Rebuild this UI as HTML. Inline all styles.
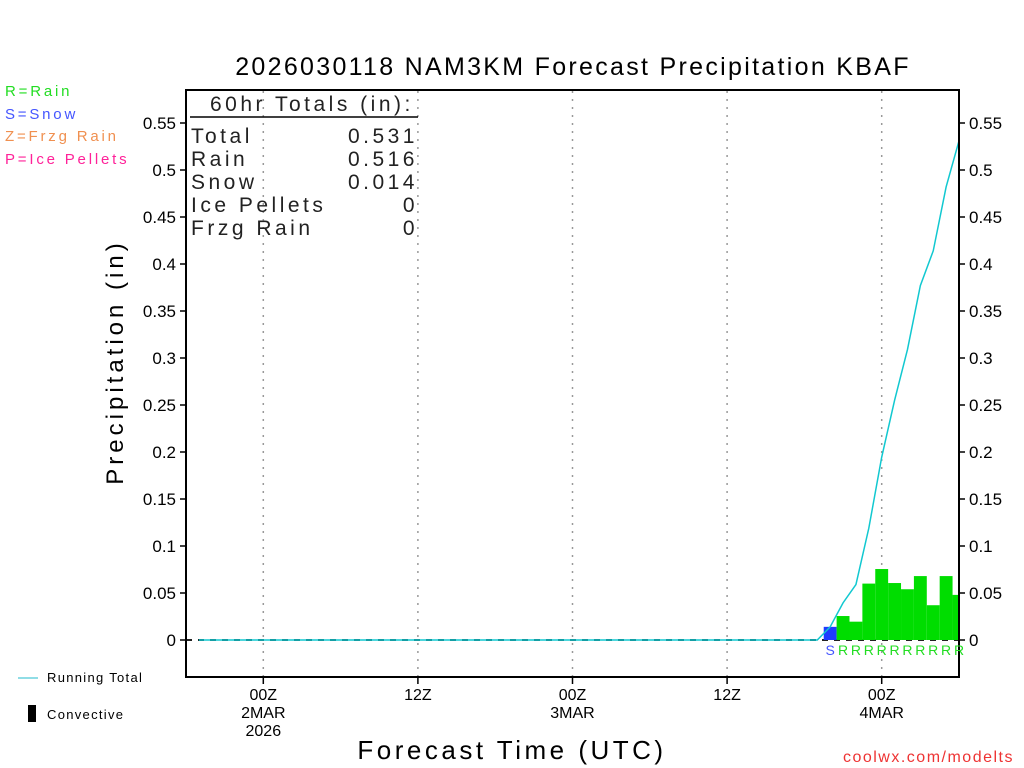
<!DOCTYPE html>
<html><head><meta charset="utf-8"><style>
html,body{margin:0;padding:0;background:#fff;}
svg{display:block;font-family:"Liberation Sans","DejaVu Sans",sans-serif;}
</style></head><body>
<svg id="chart" width="1024" height="768" viewBox="0 0 1024 768">
<text x="573" y="75" font-size="25" text-anchor="middle" letter-spacing="2.3">2026030118 NAM3KM Forecast Precipitation KBAF</text>
<g font-size="15" letter-spacing="2.8">
<text x="5" y="96" fill="#22dd22">R=Rain</text>
<text x="5" y="119" fill="#4455ff">S=Snow</text>
<text x="5" y="141" fill="#f09050">Z=Frzg Rain</text>
<text x="5" y="164" fill="#ff2299">P=Ice Pellets</text>
</g>
<g id="grid"></g>
<g id="bars"></g>
<g id="line"></g>
<rect x="186" y="90" width="773" height="587" fill="none" stroke="#000" stroke-width="2"/>
<g id="yaxis" font-size="17"></g>
<g id="xaxis" font-size="16" text-anchor="middle"></g>
<g id="ptype" font-size="14" text-anchor="middle"></g>
<g font-size="21" fill="#222" letter-spacing="3.5">
<text x="210" y="111">60hr Totals (in):</text>
<line x1="190" y1="117" x2="418" y2="117" stroke="#000" stroke-width="1.5"/>
<text x="191" y="143">Total</text><text x="418" y="143" text-anchor="end">0.531</text>
<text x="191" y="166">Rain</text><text x="418" y="166" text-anchor="end">0.516</text>
<text x="191" y="189">Snow</text><text x="418" y="189" text-anchor="end">0.014</text>
<text x="191" y="212">Ice Pellets</text><text x="418" y="212" text-anchor="end">0</text>
<text x="191" y="235">Frzg Rain</text><text x="418" y="235" text-anchor="end">0</text>
</g>
<text transform="translate(123,362) rotate(-90)" font-size="24" text-anchor="middle" letter-spacing="4">Precipitation (in)</text>
<text x="512" y="759" font-size="26" text-anchor="middle" letter-spacing="3.5">Forecast Time (UTC)</text>
<text x="1014" y="762" font-size="16" fill="#ee3333" text-anchor="end" letter-spacing="1.5">coolwx.com/modelts</text>
<g>
<line x1="18" y1="678" x2="38" y2="678" stroke="#22bbcc" stroke-width="1"/>
<text x="47" y="682" font-size="13" letter-spacing="1.3">Running Total</text>
<rect x="28" y="705" width="8" height="17" fill="#000"/>
<text x="47" y="719" font-size="13" letter-spacing="1.3">Convective</text>
</g>
</svg>
<script>
const yTicks=[0,0.05,0.1,0.15,0.2,0.25,0.3,0.35,0.4,0.45,0.5,0.55];
const yLabels=["0","0.05","0.1","0.15","0.2","0.25","0.3","0.35","0.4","0.45","0.5","0.55"];
const xTickHours=[6,18,30,42,54];
const xTickLabels=[["00Z","2MAR","2026"],["12Z"],["00Z","3MAR"],["12Z"],["00Z","4MAR"]];
const barHours=[50,51,52,53,54,55,56,57,58,59,60];
const barValues=[0.014,0.0255,0.0195,0.060,0.0755,0.0606,0.054,0.068,0.037,0.068,0.048];
const barTypes=["S","R","R","R","R","R","R","R","R","R","R"];
const lineHours=[1,49,50,51,52,53,54,55,56,57,58,59,60];
const lineValues=[0,0,0.014,0.0395,0.059,0.119,0.1945,0.255,0.309,0.377,0.414,0.482,0.531];
const NS="http://www.w3.org/2000/svg";
const X0=186,X1=959,Y0=640,PXIN=940,HR=(X1-X0)/60;
const xs=h=>X0+h*HR, ys=v=>Y0-v*PXIN;
function mk(tag,attrs,parent,text){const e=document.createElementNS(NS,tag);for(const k in attrs)e.setAttribute(k,attrs[k]);if(text!==undefined)e.textContent=text;document.getElementById(parent).appendChild(e);return e;}
yTicks.forEach((v,i)=>{
 const y=ys(v);
 mk('line',{x1:X0-6,x2:X0,y1:y,y2:y,stroke:'#000','stroke-width':1.5},'yaxis');
 mk('line',{x1:X1,x2:X1+6,y1:y,y2:y,stroke:'#000','stroke-width':1.5},'yaxis');
 const l=mk('text',{x:X0-10,y:y+6,'text-anchor':'end'},'yaxis',yLabels[i]);
 
 
 const r=mk('text',{x:X1+10,y:y+6},'yaxis',yLabels[i]);
 
 
});
xTickHours.forEach((h,i)=>{
 const x=xs(h);
 mk('line',{x1:x,x2:x,y1:91,y2:676,stroke:'#999','stroke-width':1.5,'stroke-dasharray':'2,6'},'grid');
 mk('line',{x1:x,x2:x,y1:677,y2:684,stroke:'#000','stroke-width':1.5},'xaxis');
 xTickLabels[i].forEach((s,j)=>{
  const t=mk('text',{x:x,y:700+j*18},'xaxis',s);
  
  
 });
});
mk('line',{x1:X0,x2:X1,y1:Y0,y2:Y0,stroke:'#222','stroke-width':2,'stroke-dasharray':'6,6'},'grid');
barHours.forEach((h,i)=>{
 const x=Math.max(X0,xs(h-0.5)), x2=Math.min(X1,xs(h+0.5));
 const b=mk('rect',{x:x,y:ys(barValues[i]),width:x2-x,height:barValues[i]*PXIN,fill:barTypes[i]==='S'?'#1e3cff':'#00dd00'},'bars');
 
 
 const t=mk('text',{x:xs(h),y:655,fill:barTypes[i]==='S'?'#4455ff':'#22dd22'},'ptype',barTypes[i]);
 
 
});
const p=mk('polyline',{points:lineHours.map((h,i)=>xs(h)+','+ys(lineValues[i])).join(' '),fill:'none',stroke:'#11c8d0','stroke-width':1.5},'line');


</script>
</body></html>
